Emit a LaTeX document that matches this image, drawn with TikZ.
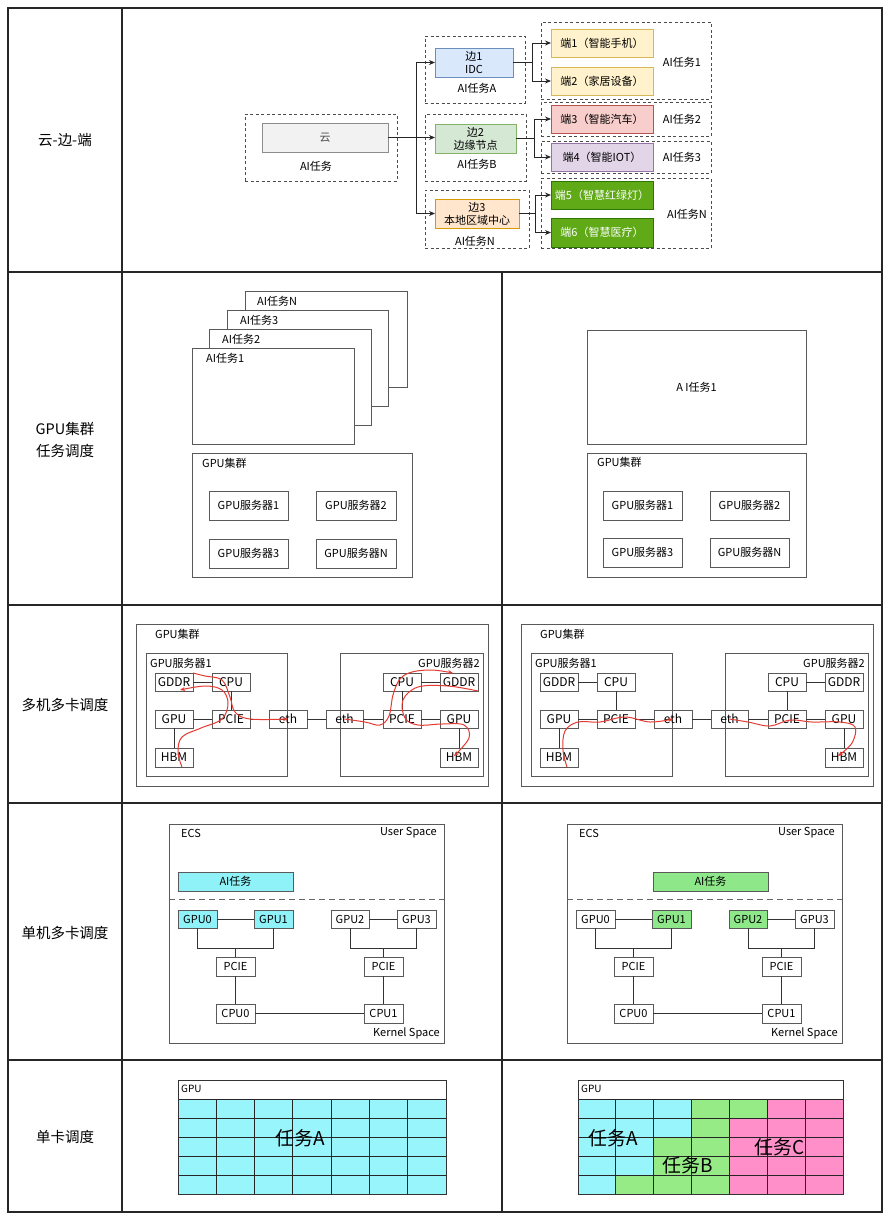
\documentclass[tikz,border=0pt]{standalone}
\usepackage{fontspec}
\setmainfont{Noto Sans CJK SC}
\usetikzlibrary{arrows.meta}
\definecolor{cloudF}{HTML}{F2F2F2}\definecolor{cloudD}{HTML}{8C8C8C}
\definecolor{e1F}{HTML}{DAE8FC}\definecolor{e1D}{HTML}{6C8EBF}
\definecolor{e2F}{HTML}{D5E8D4}\definecolor{e2D}{HTML}{82B366}
\definecolor{e3F}{HTML}{FFE6CC}\definecolor{e3D}{HTML}{D79B00}
\definecolor{dyF}{HTML}{FFF2CC}\definecolor{dyD}{HTML}{D6B656}
\definecolor{drF}{HTML}{F8CECC}\definecolor{drD}{HTML}{B85450}
\definecolor{dpF}{HTML}{E1D5E7}\definecolor{dpD}{HTML}{9673A6}
\definecolor{dgF}{HTML}{60A917}\definecolor{dgD}{HTML}{2D7600}
\definecolor{cellC}{HTML}{99F5FC}
\definecolor{cellG}{HTML}{97EB87}
\definecolor{cellP}{HTML}{FF8FC8}
\definecolor{cyanB}{HTML}{8FF2F8}
\definecolor{greenB}{HTML}{8EE88A}
\definecolor{redc}{HTML}{E53A30}
\newcommand\bx[7]{\node[#6,minimum width={#4-#2},minimum height={#5-#3}] (#1) at ({(#2+#4)/2},{(#3+#5)/2}) {#7};}
\newcommand\rowthree[1]{%
 \bx{#1cl}{136}{624}{488}{786}{box}{}
 \node[lbl,anchor=west] (#1clT) at (155,634) {GPU集群};
 \bx{#1sa}{146}{653}{287}{776}{box}{}
 \node[lbl,anchor=west] (#1saT) at (150,663) {GPU服务器1};
 \bx{#1sb}{340}{653}{483}{776}{box}{}
 \node[lbl,anchor=east] (#1sbT) at (480,663) {GPU服务器2};
 \bx{#1gddr}{155}{673}{193}{691}{tbox}{GDDR}
 \bx{#1cpu}{212}{673}{250}{691}{tbox}{CPU}
 \bx{#1gpu}{155}{710}{193}{728}{tbox}{GPU}
 \bx{#1pcie}{212}{710}{250}{728}{tbox}{PCIE}
 \bx{#1hbm}{155}{748}{193}{767}{tbox}{HBM}
 \bx{#1eth}{269}{710}{307}{728}{tbox}{eth}
 \bx{#1ethb}{326}{710}{363}{728}{tbox}{eth}
 \bx{#1cpub}{383}{673}{421}{691}{tbox}{CPU}
 \bx{#1gddrb}{440}{673}{478}{691}{tbox}{GDDR}
 \bx{#1pcieb}{383}{710}{421}{728}{tbox}{PCIE}
 \bx{#1gpub}{440}{710}{478}{728}{tbox}{GPU}
 \bx{#1hbmb}{440}{748}{478}{767}{tbox}{HBM}
 \draw[conn] (#1gddr) -- (#1cpu);
 \draw[conn] (#1cpu) -- (#1pcie);
 \draw[conn] (#1gpu) -- (#1pcie);
 \draw[conn] (#1gpu) -- (#1hbm);
 \draw[conn] (#1pcie) -- (#1eth);
 \draw[conn] (#1eth) -- (#1ethb);
 \draw[conn] (#1ethb) -- (#1pcieb);
 \draw[conn] (#1cpub) -- (#1gddrb);
 \draw[conn] (#1cpub) -- (#1pcieb);
 \draw[conn] (#1pcieb) -- (#1gpub);
 \draw[conn] (#1gpub) -- (#1hbmb);
}
\newcommand\rowfour[8]{%
 \bx{#1ecs}{169}{824}{444}{1043}{box}{}
 \node[lbl,anchor=west] (#1ecsT) at (181,833) {ECS};
 \node[lbl,anchor=east] (#1usT) at (437,833) {User Space};
 \node[lbl,anchor=east] (#1ksT) at (440,1033) {Kernel Space};
 \bx{#1ai}{#2}{872}{#3}{891}{sbox,fill=#8}{AI任务}
 \draw[dline] (#1ecs.west |- 0,899) -- (#1ecs.east |- 0,899);
 \bx{#1g0}{178}{910}{217}{928}{sbox,fill=#4}{GPU0}
 \bx{#1g1}{254}{910}{293}{928}{sbox,fill=#5}{GPU1}
 \bx{#1g2}{331}{910}{369}{928}{sbox,fill=#6}{GPU2}
 \bx{#1g3}{397}{910}{436}{928}{sbox,fill=#7}{GPU3}
 \bx{#1p0}{216}{957}{255}{976}{sbox}{PCIE}
 \bx{#1p1}{364}{957}{403}{976}{sbox}{PCIE}
 \bx{#1c0}{216}{1004}{255}{1023}{sbox}{CPU0}
 \bx{#1c1}{364}{1004}{403}{1023}{sbox}{CPU1}
 \draw[conn] (#1g0) -- (#1g1);
 \draw[conn] (#1g2) -- (#1g3);
 \draw[conn] (#1g0.south) -- ++(0,20) -| (#1g1.south);
 \draw[conn] (#1g2.south) -- ++(0,20) -| (#1g3.south);
 \draw[conn] (#1p0.north) -- ++(0,-9);
 \draw[conn] (#1p1.north) -- ++(0,-9);
 \draw[conn] (#1p0) -- (#1c0);
 \draw[conn] (#1p1) -- (#1c1);
 \draw[conn] (#1c0) -- (#1c1);
}
\begin{document}
\begin{tikzpicture}[x=1pt,y=-1pt,
 box/.style={draw=black!65,line width=0.8,inner sep=0,outer sep=0,font=\fontsize{11}{13}\selectfont,align=center},
 wbox/.style={box,fill=white},
 sbox/.style={box,font=\fontsize{11}{13}\selectfont},
 tbox/.style={box,font=\fontsize{12}{14}\selectfont},
 dbox/.style={draw=black!70,line width=0.8,dash pattern=on 3 off 2.5,inner sep=0,outer sep=0},
 lbl/.style={inner sep=0,font=\fontsize{11}{13}\selectfont},
 rowl/.style={inner sep=0,font=\fontsize{14.5}{22}\selectfont,align=center},
 big/.style={inner sep=0,font=\fontsize{19}{22}\selectfont},
 arr/.style={line width=0.9,draw=black!85,-{Stealth[length=6,width=5]}},
 conn/.style={line width=0.8,draw=black!80},
 dline/.style={line width=1,draw=black!60,dash pattern=on 6 off 4},
 redpath/.style={line width=1,draw=redc,-{Stealth[length=5,width=4]}},
 tab/.style={line width=1.1,draw=black!85},
 gline/.style={line width=0.8,draw=black!85}]
\useasboundingbox (0,0) rectangle (890,1219);
\fill[white] (0,0) rectangle (890,1219);
% table
\draw[tab] (8,8) rectangle (882,1212);
\draw[tab] (122,8) -- (122,1212);
\foreach \yy in {272,605,803,1060} \draw[tab] (8,\yy) -- (882,\yy);
\draw[tab] (502,272) -- (502,1212);
\node[rowl] (r1) at (65,140) {云-边-端};
\node[rowl] (r2) at (65,440) {GPU集群\\任务调度};
\node[rowl] (r3) at (65,705) {多机多卡调度};
\node[rowl] (r4) at (65,933) {单机多卡调度};
\node[rowl] (r5) at (65,1137) {单卡调度};
% ---------- row 1
\bx{yunG}{245}{114}{397}{181}{dbox}{}
\bx{yun}{262}{123}{388}{152}{box,fill=cloudF,draw=cloudD,text=black!70}{云}
\node[lbl] (yunT) at (316,166) {AI任务};
\bx{e1G}{425}{36}{525}{103}{dbox}{}
\bx{e1}{435}{48}{513}{77}{box,fill=e1F,draw=e1D}{边1\\IDC}
\node[lbl] (e1T) at (477,88) {AI任务A};
\bx{e2G}{425}{114}{526}{181}{dbox}{}
\bx{e2}{435}{124}{516}{153}{box,fill=e2F,draw=e2D}{边2\\边缘节点}
\node[lbl] (e2T) at (477,164) {AI任务B};
\bx{e3G}{425}{190}{529}{248}{dbox}{}
\bx{e3}{435}{199}{519}{228}{box,fill=e3F,draw=e3D}{边3\\本地区域中心}
\node[lbl] (e3T) at (475,241) {AI任务N};
\bx{d12G}{541}{22}{711}{99}{dbox}{}
\bx{d1}{551}{29}{653}{57}{box,fill=dyF,draw=dyD}{端1（智能手机）}
\bx{d2}{551}{67}{653}{95}{box,fill=dyF,draw=dyD}{端2（家居设备）}
\node[lbl] (d12T) at (682,62) {AI任务1};
\bx{d3G}{541}{102}{711}{136}{dbox}{}
\bx{d3}{551}{105}{653}{133}{box,fill=drF,draw=drD}{端3（智能汽车）}
\node[lbl] (d3T) at (682,119) {AI任务2};
\bx{d4G}{541}{141}{711}{173}{dbox}{}
\bx{d4}{551}{143}{653}{171}{box,fill=dpF,draw=dpD}{端4（智能IOT）}
\node[lbl] (d4T) at (682,157) {AI任务3};
\bx{d56G}{541}{178}{711}{248}{dbox}{}
\bx{d5}{551}{181}{653}{209}{box,fill=dgF,draw=dgD,text=white}{端5（智慧红绿灯）}
\bx{d6}{551}{218}{653}{247}{box,fill=dgF,draw=dgD,text=white}{端6（智慧医疗）}
\node[lbl] (d56T) at (687,214) {AI任务N};
\draw[arr] (yun.east) -- ++(28,0) |- (e1.west);
\draw[arr] (yun.east) -- (e2.west |- yun.east);
\draw[arr] (yun.east) -- ++(28,0) |- (e3.west);
\draw[arr] (e1.east) -- ++(19,0) |- (d1.west);
\draw[arr] (e1.east) -- ++(19,0) |- (d2.west);
\draw[arr] (e2.east) -- ++(18,0) |- (d3.west);
\draw[arr] (e2.east) -- ++(18,0) |- (d4.west);
\draw[arr] (e3.east) -- ++(16,0) |- (d5.west);
\draw[arr] (e3.east) -- ++(16,0) |- (d6.west);
% ---------- row 2 left
\bx{tN}{245}{291}{407}{387}{wbox}{}
\node[lbl,anchor=west] (tNT) at (257,301) {AI任务N};
\bx{t3}{227}{310}{388}{406}{wbox}{}
\node[lbl,anchor=west] (t3T) at (240,320) {AI任务3};
\bx{t2}{209}{329}{371}{425}{wbox}{}
\node[lbl,anchor=west] (t2T) at (222,339) {AI任务2};
\bx{t1}{192}{348}{354}{444}{wbox}{}
\node[lbl,anchor=west] (t1T) at (206,358) {AI任务1};
\bx{cL}{192}{453}{412}{577}{box}{}
\node[lbl,anchor=west] (cLT) at (202,463) {GPU集群};
\bx{sL1}{209}{491}{288}{520}{sbox}{GPU服务器1}
\bx{sL2}{316}{491}{396}{520}{sbox}{GPU服务器2}
\bx{sL3}{209}{539}{288}{568}{sbox}{GPU服务器3}
\bx{sLN}{316}{539}{396}{568}{sbox}{GPU服务器N}
% row 2 right
\bx{tR}{587}{330}{806}{444}{sbox}{A I任务1}
\bx{cR}{587}{453}{806}{577}{box}{}
\node[lbl,anchor=west] (cRT) at (597,462) {GPU集群};
\bx{sR1}{603}{491}{682}{520}{sbox}{GPU服务器1}
\bx{sR2}{710}{491}{789}{520}{sbox}{GPU服务器2}
\bx{sR3}{603}{538}{682}{567}{sbox}{GPU服务器3}
\bx{sRN}{710}{538}{789}{567}{sbox}{GPU服务器N}
% ---------- row 3
\begin{scope}\rowthree{L}\end{scope}
\begin{scope}[xshift=385]\rowthree{R}\end{scope}
\draw[redpath] plot[smooth,tension=0.6] coordinates {([xshift=8pt]Lhbm.south) (178,752) (182,737) (201,728) (222,719) (228,703) (222,690) (205,686) (180,690)};
\draw[redpath] plot[smooth,tension=0.6] coordinates {(Lgddr.north east) (205,676) (222,680) (230,697) (235,712) (250,719) (Leth.center)};
\draw[redpath] plot[smooth,tension=0.6] coordinates {(Lethb.center) (365,722) (380,725) (389,716) (393,695) (400,679) (412,672) (432,670) (453,673)};
\draw[redpath] plot[smooth,tension=0.6] coordinates {(Lgddrb.south east) (448,686) (418,687) (403,700) (405,718) (418,725) (442,724) (464,725) (469,738) (454,756)};
\draw[redpath] plot[smooth,tension=0.6] coordinates {([xshift=8pt]Rhbm.south) (563,750) (565,731) (578,722) (600,722) (625,717) (650,722) (Reth.center)};
\draw[redpath] plot[smooth,tension=0.6] coordinates {(Rethb.center) (748,722) (770,726) (790,720) (812,722) (840,722) (855,727) (852,743) (838,756)};
% ---------- row 4
\begin{scope}\rowfour{LL}{178}{293}{cyanB}{cyanB}{white}{white}{cyanB}\end{scope}
\begin{scope}[xshift=398]\rowfour{RR}{255}{370}{white}{greenB}{greenB}{white}{greenB}\end{scope}
% ---------- row 5 left
\foreach \i in {0,...,6} \foreach \j in {0,...,4}
  \fill[cellC] ({178+\i*38.2857},{1099+\j*19}) rectangle ++(38.2857,19);
\foreach \i in {1,...,6} \draw[gline] ({178+\i*38.2857},1099) -- ({178+\i*38.2857},1194);
\foreach \j in {0,...,4} \draw[gline] (178,{1099+\j*19}) -- (446,{1099+\j*19});
\bx{gpuL}{178}{1080}{446}{1194}{box,draw=black!80}{}
\node[lbl,anchor=west,font=\fontsize{10}{12}\selectfont] (gpuLT) at (181,1089) {GPU};
\node[big] (tA) at (300,1138) {任务A};
% row 5 right
\foreach \rowl [count=\j from 0] in {{C,C,C,G,G,P,P},{C,C,C,G,P,P,P},{C,C,G,G,P,P,P},{C,C,G,G,P,P,P},{C,G,G,G,P,P,P}}
  \foreach \c [count=\i from 0] in \rowl
    \fill[fill=cell\c] ({578+\i*37.857},{1099+\j*19}) rectangle ++(37.857,19);
\foreach \i in {1,...,6} \draw[gline] ({578+\i*37.857},1099) -- ({578+\i*37.857},1194);
\foreach \j in {0,...,4} \draw[gline] (578,{1099+\j*19}) -- (843,{1099+\j*19});
\bx{gpuR}{578}{1080}{843}{1194}{box,draw=black!80}{}
\node[lbl,anchor=west,font=\fontsize{10}{12}\selectfont] (gpuRT) at (581,1089) {GPU};
\node[big] (rA) at (613,1138) {任务A};
\node[big] (rB) at (688,1165) {任务B};
\node[big] (rC) at (780,1147) {任务C};
\end{tikzpicture}
\end{document}
